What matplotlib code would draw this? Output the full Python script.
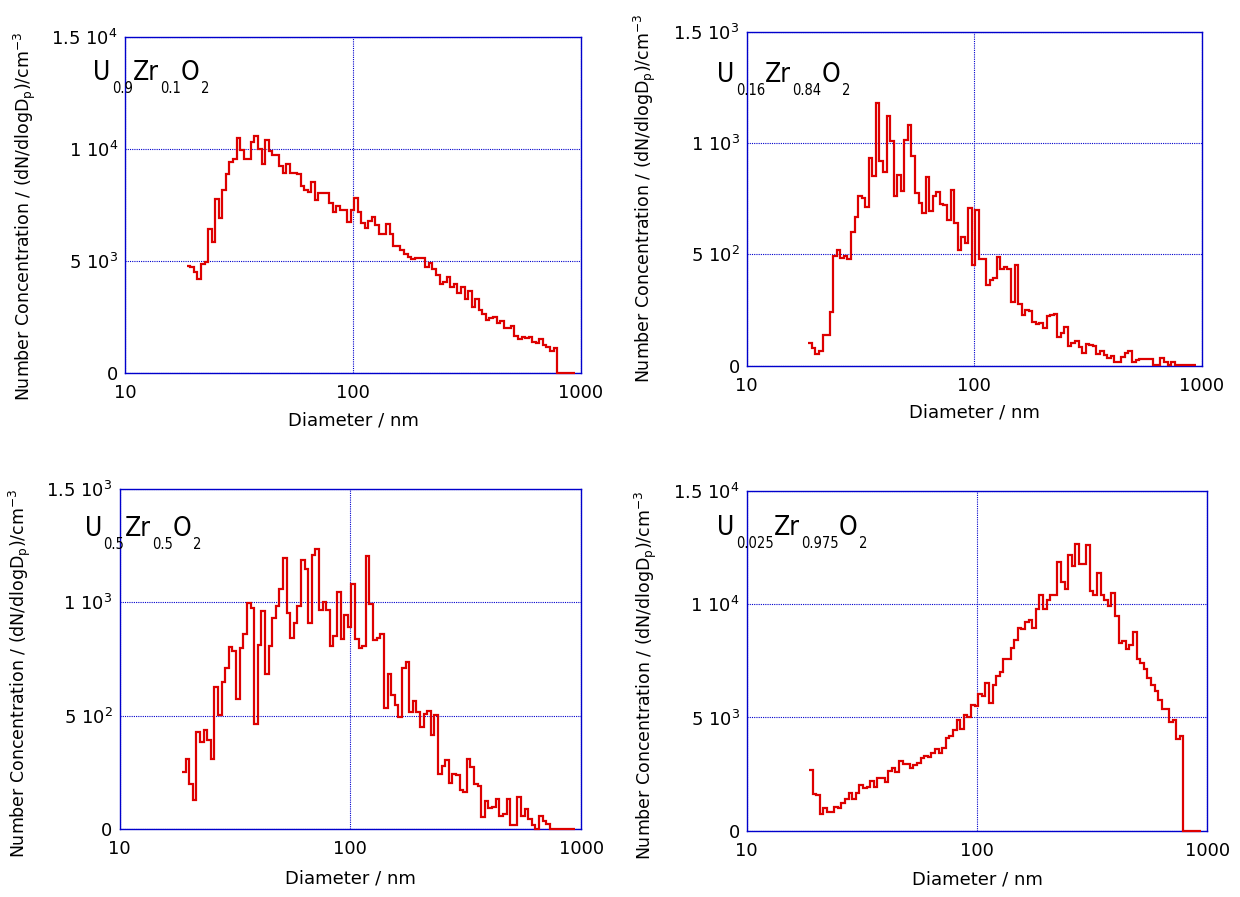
import numpy as np
import matplotlib
matplotlib.use("Agg")
import matplotlib.pyplot as plt

# SMPS size channels: 64 per decade starting at the lowest mobility diameter
CH_PER_DECADE = 64
D_START = 18.65  # nm

# dN/dlogDp per channel (cm^-3)
u09_zr01 = [4770, 4700, 4500, 4190, 4870, 4950, 6400, 5840, 7740, 6920,
            8140, 8860, 9390, 9520, 10480, 9960, 9550, 9550, 10300, 10560,
            9970, 9300, 10400, 9900, 9720, 9720, 9230, 8920, 9300, 8920,
            8920, 8890, 8340, 8170, 8070, 8510, 7700, 8000, 8000, 8000,
            7580, 7180, 7440, 7250, 7250, 6730, 7250, 7800, 7180, 6690,
            6460, 6780, 6950, 6580, 6170, 6170, 6640, 6180, 5660, 5660,
            5470, 5290, 5170, 5070, 5130, 5130, 5130, 4720, 4900, 4610,
            4350, 3940, 4060, 4280, 3830, 3980, 3570, 3830, 3310, 3640,
            2940, 3270, 2820, 2600, 2360, 2440, 2470, 2240, 2320, 2010,
            2010, 2080, 1660, 1520, 1600, 1550, 1590, 1350, 1310, 1520,
            1230, 1160, 980, 1110, 0, 0, 0, 0, 0]

u016_zr084 = [103, 78, 51, 67, 138, 138, 241, 493, 519, 485,
              493, 479, 602, 669, 762, 754, 714, 931, 853, 1181,
              921, 871, 1121, 1010, 763, 856, 786, 1013, 1081, 942,
              774, 732, 684, 849, 695, 763, 781, 726, 722, 654,
              789, 639, 519, 576, 552, 707, 452, 699, 479, 479,
              362, 385, 392, 489, 436, 442, 436, 287, 452, 277,
              228, 250, 245, 198, 186, 193, 168, 225, 228, 232,
              127, 148, 175, 88, 100, 112, 82, 55, 96, 93,
              88, 51, 66, 48, 33, 45, 15, 18, 37, 58,
              67, 15, 25, 30, 30, 30, 30, 3, 3, 33,
              18, 3, 18, 3, 3, 3, 3, 3, 3]

u05_zr05 = [251, 310, 200, 129, 430, 386, 438, 394, 310, 626,
            501, 650, 712, 802, 787, 574, 800, 861, 999, 974,
            464, 812, 963, 684, 808, 932, 984, 1059, 1197, 954,
            844, 907, 984, 1187, 1147, 910, 1211, 1235, 966, 1003,
            966, 809, 853, 1044, 837, 944, 893, 1079, 838, 797,
            808, 1204, 991, 834, 841, 861, 536, 683, 592, 545,
            496, 712, 739, 518, 565, 518, 448, 507, 521, 413,
            504, 244, 276, 305, 203, 244, 239, 173, 163, 310,
            275, 198, 191, 53, 122, 93, 97, 132, 56, 66,
            132, 19, 19, 141, 59, 88, 44, 19, 0, 56,
            37, 23, 0, 0, 0, 0, 0, 0, 0]

u0025_zr0975 = [2680, 1620, 1570, 760, 1010, 840, 840, 1060, 990, 1240,
                1380, 1680, 1380, 1680, 2010, 1870, 1940, 2210, 1940, 2310,
                2340, 2160, 2630, 2780, 2600, 3090, 2930, 2930, 2750, 2900,
                3000, 3190, 3290, 3260, 3440, 3600, 3410, 3660, 4100, 4190,
                4440, 4880, 4490, 5130, 5030, 5540, 5510, 6030, 5960, 6530,
                5650, 6430, 6820, 7010, 7600, 7600, 8090, 8410, 8970, 8900,
                9220, 9320, 8930, 9780, 10400, 9810, 10180, 10400, 10400, 11870,
                10990, 10690, 12160, 11690, 12650, 11760, 11760, 12600, 10570, 10400,
                11380, 10400, 10180, 9930, 10500, 9470, 8310, 8370, 8040, 8220,
                8780, 7600, 7410, 7120, 6750, 6430, 6180, 5760, 5370, 5370,
                4810, 4880, 4070, 4190, 0, 0, 0, 0, 0]

x_ticks = [10, 100, 1000]
x_ticklabels = ["10", "100", "1000"]
ticks_1e4 = [0, 5000, 10000, 15000]
labels_1e4 = ["0", r"5 10$^3$", r"1 10$^4$", r"1.5 10$^4$"]
ticks_1e3 = [0, 500, 1000, 1500]
labels_1e3 = ["0", r"5 10$^2$", r"1 10$^3$", r"1.5 10$^3$"]

formulas = [["U", "0.9", "Zr", "0.1", "O", "2"],
            ["U", "0.16", "Zr", "0.84", "O", "2"],
            ["U", "0.5", "Zr", "0.5", "O", "2"],
            ["U", "0.025", "Zr", "0.975", "O", "2"]]

BLUE = "#0000cc"
RED = "#dd0000"


def formula(ax, x, y, parts):
    t = ax.text(x, y, parts[0], transform=ax.transAxes, fontsize=19,
                va="baseline", ha="left", family="DejaVu Sans",
                stretch="condensed", clip_on=False)
    for i, s in enumerate(parts[1:], 1):
        sub = i % 2 == 1
        t = ax.annotate(s, xy=(1, y), xycoords=(t, ax.transAxes),
                        xytext=(1 if sub else 0, -9.5 if sub else 0),
                        textcoords="offset points",
                        fontsize=10.5 if sub else 19, va="baseline", ha="left",
                        family="DejaVu Sans", stretch="condensed",
                        annotation_clip=False)


def panel(rect, counts, yticks, yticklabels, parts, fx, fy, ylab_xy, xlab_y):
    ax = fig.add_axes(rect)
    counts = np.asarray(counts, dtype=float)
    edges = D_START * 10 ** (np.arange(len(counts) + 1) / CH_PER_DECADE)
    ax.stairs(counts, edges, baseline=None, color=RED, lw=1.6, clip_on=False,
              zorder=3)
    ax.set_xscale("log")
    ax.set_xlim(10, 1000)
    ax.set_ylim(yticks[0], yticks[-1])
    ax.set_xticks(x_ticks)
    ax.set_xticklabels(x_ticklabels)
    ax.xaxis.set_minor_locator(matplotlib.ticker.NullLocator())
    ax.set_yticks(yticks)
    ax.set_yticklabels(yticklabels)
    ax.tick_params(length=0, labelsize=13)
    ax.tick_params(axis="x", pad=8)
    ax.tick_params(axis="y", pad=5)
    ax.grid(True, color=BLUE, ls=(0, (1, 1)), lw=0.8)
    for sp in ax.spines.values():
        sp.set_color(BLUE)
        sp.set_linewidth(1.0)
    ax.set_xlabel("Diameter / nm", fontsize=13)
    ax.xaxis.label.set_va("center")
    ax.xaxis.set_label_coords(0.5, xlab_y)
    ax.set_ylabel(r"Number Concentration / (dN/dlogD$_\mathregular{p}$)/cm$^{-3}$",
                  fontsize=12.5)
    ax.yaxis.label.set_va("center")
    ax.yaxis.set_label_coords(*ylab_xy)
    formula(ax, fx, fy, parts)
    return ax


fig = plt.figure(figsize=(12.4, 8.97), dpi=100)

panel([0.1008, 0.5845, 0.3677, 0.3746], u09_zr01, ticks_1e4, labels_1e4,
      formulas[0], -0.07, 0.871, (-0.219, 0.466), -0.143)
panel([0.6022, 0.5923, 0.3671, 0.3724], u016_zr084, ticks_1e3, labels_1e3,
      formulas[1], -0.065, 0.849, (-0.224, 0.5), -0.141)
panel([0.0964, 0.0758, 0.3722, 0.3790], u05_zr05, ticks_1e3, labels_1e3,
      formulas[2], -0.075, 0.862, (-0.216, 0.459), -0.147)
panel([0.6022, 0.0739, 0.3715, 0.3787], u0025_zr0975, ticks_1e4, labels_1e4,
      formulas[3], -0.064, 0.870, (-0.22, 0.458), -0.144)

fig.savefig("out.png", dpi=100)
